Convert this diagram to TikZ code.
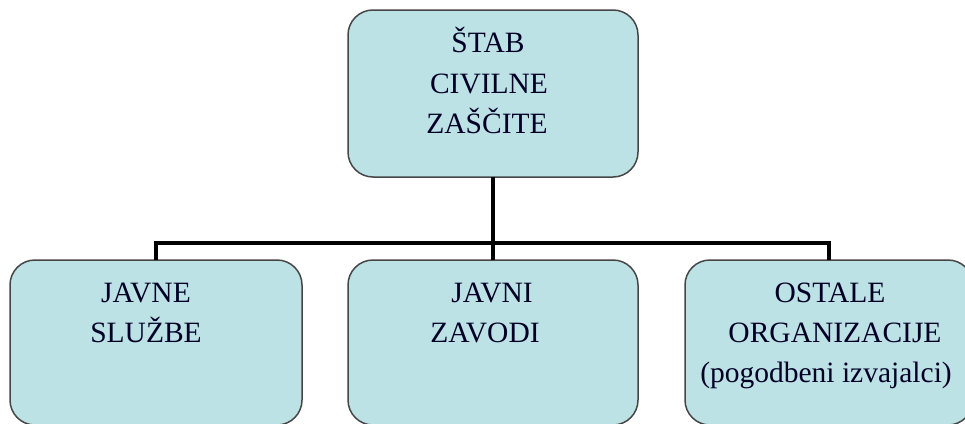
\documentclass[tikz,border=0pt]{standalone}
\usepackage{fontspec}
\setmainfont{Liberation Serif}
\definecolor{boxfill}{RGB}{188,226,229}
\definecolor{boxline}{RGB}{70,70,70}
\begin{document}
\begin{tikzpicture}[x=1pt,y=-1pt,
  orgbox/.style={draw=boxline, line width=1.5pt, fill=boxfill, rounded corners=25pt, rectangle, inner sep=0pt, outer sep=0pt},
  conn/.style={draw=black, line width=3.5pt},
  lbl/.style={anchor=base, inner sep=0pt, font=\fontsize{29.5}{40}\selectfont, text=black!85!blue}]
\useasboundingbox (0,0) rectangle (965,423);
\fill[white] (0,0) rectangle (965,423);
\begin{scope}
\clip (0,0) rectangle (965,423);
\node[orgbox, minimum width=290pt, minimum height=167pt] (top) at (493,93.5) {};
\node[orgbox, minimum width=292pt, minimum height=165pt] (l) at (156,342.5) {};
\node[orgbox, minimum width=290pt, minimum height=165pt] (m) at (493,342.5) {};
\node[orgbox, minimum width=288pt, minimum height=165pt] (r) at (829,342.5) {};
\coordinate (bus) at (493,243);
\draw[conn] (l.north) |- (bus) -| (r.north);
\draw[conn] (top.south) -- (m.north);
\node[lbl] (t1) at (488,52) {ŠTAB};
\node[lbl] (t2) at (489,93) {CIVILNE};
\node[lbl] (t3) at (487,133) {ZAŠČITE};
\node[lbl] (l1) at (146,302) {JAVNE};
\node[lbl] (l2) at (146,342) {SLUŽBE};
\node[lbl] (m1) at (492,302) {JAVNI};
\node[lbl] (m2) at (485,342) {ZAVODI};
\node[lbl] (r1) at (830,302) {OSTALE};
\node[lbl] (r2) at (835,342) {ORGANIZACIJE};
\node[lbl] (r3) at (826,382) {(pogodbeni izvajalci)};
\end{scope}
\end{tikzpicture}
\end{document}
